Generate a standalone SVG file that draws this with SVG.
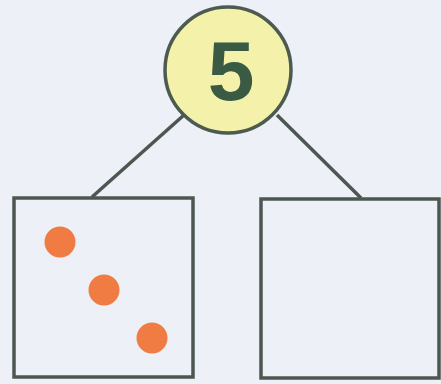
<svg xmlns="http://www.w3.org/2000/svg" width="441" height="384" viewBox="0 0 441 384">
<style>
.ln{stroke:#4c5752;stroke-width:3.5;fill:none}
.dot{fill:#f07c44}
</style>
<rect width="441" height="384" fill="#eef0f7"/>
<g id="connectors">
<line class="ln" x1="184" y1="115" x2="92" y2="197"/>
<line class="ln" x1="277" y1="115" x2="361" y2="198"/>
</g>
<g id="top">
<circle cx="228" cy="70" r="63" fill="#f4f1ab" stroke="#4c5a4f" stroke-width="3.5"/>
<text x="231" y="100" font-family="Liberation Sans, Arial, sans-serif" font-weight="bold" font-size="84" fill="#3a5a44" text-anchor="middle">5</text>
</g>
<g id="left">
<rect class="ln" x="14" y="198" width="179" height="179" fill="#eef0f7"/>
<circle class="dot" cx="60" cy="242" r="15.5"/>
<circle class="dot" cx="104" cy="290" r="15.5"/>
<circle class="dot" cx="152" cy="338" r="15.5"/>
</g>
<g id="right">
<rect class="ln" x="261" y="199" width="178" height="179"/>
</g>
</svg>
